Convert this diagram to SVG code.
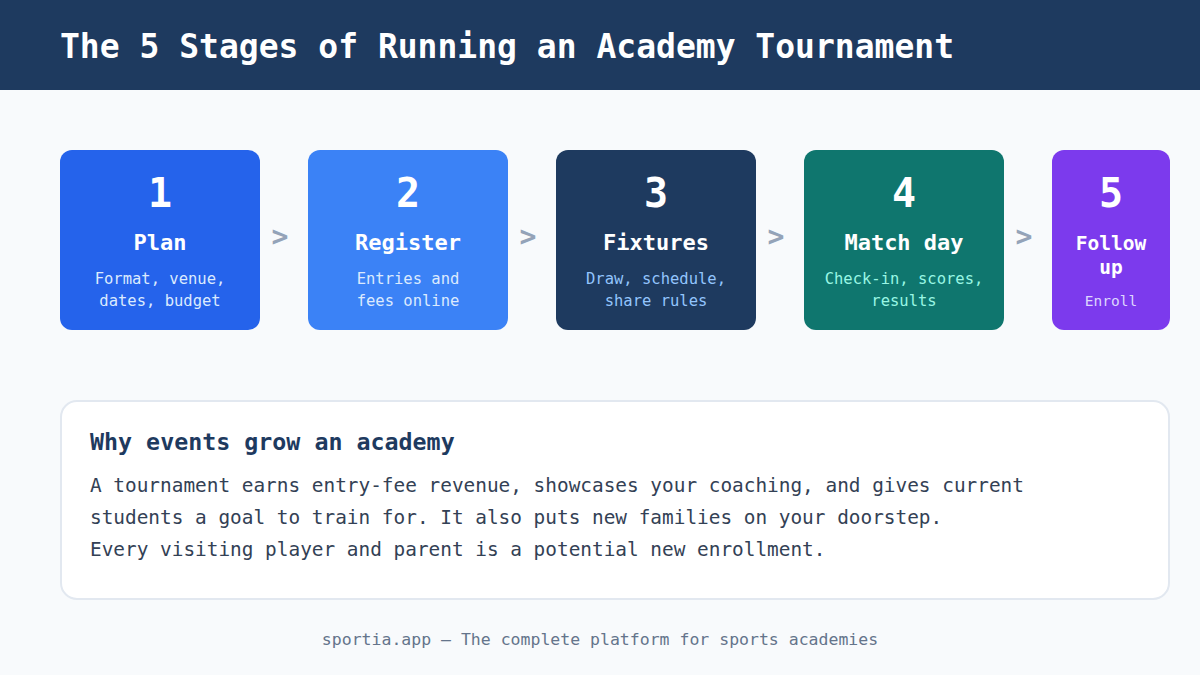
<svg xmlns="http://www.w3.org/2000/svg" width="1200" height="675" viewBox="0 0 1200 675">
<style>
text{font-family:"DejaVu Sans Mono","Liberation Mono",monospace}
.num{font-size:40px;font-weight:bold;fill:#ffffff;text-anchor:middle}
.ttl{font-size:22px;font-weight:bold;fill:#ffffff;text-anchor:middle}
.dsc{font-size:15.5px;text-anchor:middle}
.arr{font-size:28px;font-weight:bold;fill:#94a3b8;text-anchor:middle}
.body{font-size:19.4px;fill:#334155}
</style>
<rect x="0" y="0" width="1200" height="675" fill="#f8fafc"/>
<g id="header">
<rect x="0" y="0" width="1200" height="90" fill="#1e3a5f"/>
<text x="60" y="58" font-size="33" font-weight="bold" fill="#ffffff">The 5 Stages of Running an Academy Tournament</text>
</g>
<g id="connectors">
<text class="arr" x="280" y="246">&gt;</text>
<text class="arr" x="528" y="246">&gt;</text>
<text class="arr" x="776" y="246">&gt;</text>
<text class="arr" x="1024" y="246">&gt;</text>
</g>
<g id="stage1">
<rect x="60" y="150" width="200" height="180" rx="12" fill="#2563eb"/>
<text class="num" x="160" y="207">1</text>
<text class="ttl" x="160" y="250">Plan</text>
<text class="dsc" x="160" y="284" fill="#dbeafe">Format, venue,</text>
<text class="dsc" x="160" y="306" fill="#dbeafe">dates, budget</text>
</g>
<g id="stage2">
<rect x="308" y="150" width="200" height="180" rx="12" fill="#3b82f6"/>
<text class="num" x="408" y="207">2</text>
<text class="ttl" x="408" y="250">Register</text>
<text class="dsc" x="408" y="284" fill="#dbeafe">Entries and</text>
<text class="dsc" x="408" y="306" fill="#dbeafe">fees online</text>
</g>
<g id="stage3">
<rect x="556" y="150" width="200" height="180" rx="12" fill="#1e3a5f"/>
<text class="num" x="656" y="207">3</text>
<text class="ttl" x="656" y="250">Fixtures</text>
<text class="dsc" x="656" y="284" fill="#93c5fd">Draw, schedule,</text>
<text class="dsc" x="656" y="306" fill="#93c5fd">share rules</text>
</g>
<g id="stage4">
<rect x="804" y="150" width="200" height="180" rx="12" fill="#0f766e"/>
<text class="num" x="904" y="207">4</text>
<text class="ttl" x="904" y="250">Match day</text>
<text class="dsc" x="904" y="284" fill="#99f6e4">Check-in, scores,</text>
<text class="dsc" x="904" y="306" fill="#99f6e4">results</text>
</g>
<g id="stage5">
<rect x="1052" y="150" width="118" height="180" rx="12" fill="#7c3aed"/>
<text class="num" x="1111" y="207">5</text>
<text class="ttl" x="1111" y="250" style="font-size:19.5px">Follow</text>
<text class="ttl" x="1111" y="274" style="font-size:19.5px">up</text>
<text class="dsc" x="1111" y="306" fill="#ddd6fe" style="font-size:14.5px">Enroll</text>
</g>
<g id="panel">
<rect x="61" y="401" width="1108" height="198" rx="16" fill="#ffffff" stroke="#e2e8f0" stroke-width="2"/>
<text x="90" y="450" font-size="23.3" font-weight="bold" fill="#1e3a5f">Why events grow an academy</text>
<text class="body" x="90" y="492">A tournament earns entry-fee revenue, showcases your coaching, and gives current</text>
<text class="body" x="90" y="524">students a goal to train for. It also puts new families on your doorstep.</text>
<text class="body" x="90" y="556">Every visiting player and parent is a potential new enrollment.</text>
</g>
<g id="footer">
<text x="600" y="645" font-size="16.5" fill="#64748b" text-anchor="middle">sportia.app — The complete platform for sports academies</text>
</g>
</svg>
